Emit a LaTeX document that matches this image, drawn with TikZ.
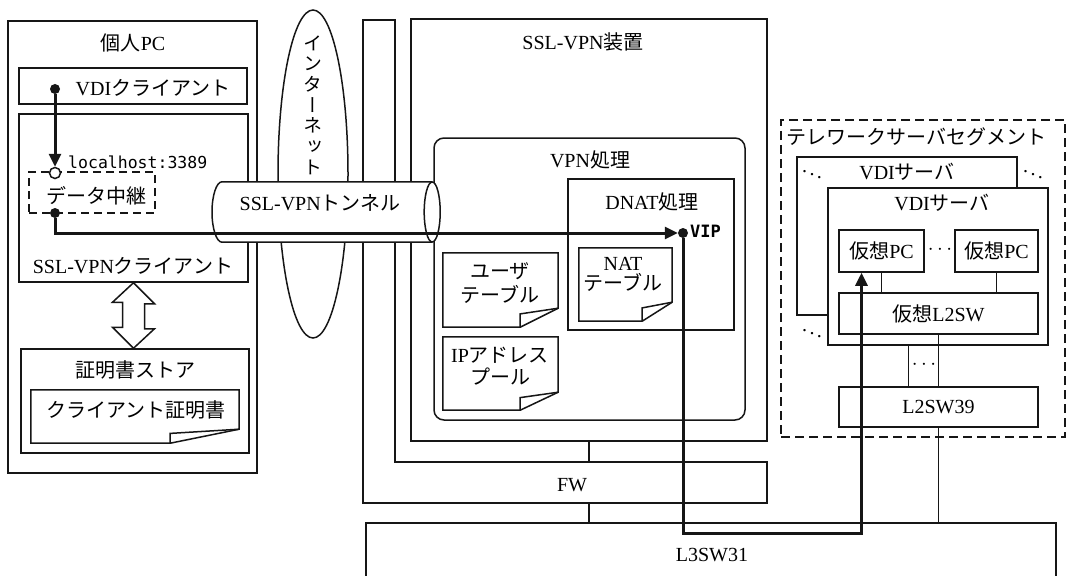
\documentclass[tikz,border=0pt]{standalone}
\usepackage{fontspec}
\setmainfont{Liberation Serif}
\setmonofont{DejaVu Sans Mono}
\newfontfamily\jp{Noto Sans CJK JP}
\newfontfamily\jpv[RawFeature={+vert}]{Noto Sans CJK JP}
\usepackage{tikz}
\usetikzlibrary{arrows.meta,calc,positioning,fit,shapes.geometric}
\definecolor{ink}{HTML}{161616}

% sheet with a folded corner: node, fold width, fold height
\newcommand\docfold[3]{%
  \draw[ink,line width=1.5pt] (#1.north west) -- (#1.north east) -- ([yshift=#3]#1.south east)
    -- ([xshift=-#2]#1.south east) -- (#1.south west) -- cycle;
  \draw[ink,line width=1.5pt] ([xshift=-#2]#1.south east) -- ([xshift=-#2,yshift=0.7*#3]#1.south east)
    -- ([yshift=#3]#1.south east);}

\begin{document}
\begin{tikzpicture}[x=1pt,y=-1pt,font=\fontsize{20}{22}\selectfont,
  box/.style={draw=ink,line width=1.5pt,inner sep=0pt},
  sheet/.style={inner sep=0pt},
  txt/.style={inner sep=0pt},
  dotnode/.style={circle,fill=ink,inner sep=0pt,minimum size=10pt},
  link/.style={ink,line width=1.5pt},
  flow/.style={ink,line width=3pt},
  tip/.style={-{Triangle[length=13pt,width=12pt]}}]
  \useasboundingbox (0,0) rectangle (1067,575);
  \clip (0,0) rectangle (1067,575);

  % internet
  \node[ellipse,draw=ink,line width=1.5pt,minimum width=70pt,minimum height=328pt,inner sep=0pt] (inet) at (313,174) {};
  \node[txt,align=center,font=\jpv\fontsize{19}{20.7}\selectfont] (inettext) at (313,105) {イ\\ン\\タ\\ー\\ネ\\ッ\\ト};

  % personal PC
  \node[box,fit={(8,21) (257,473)}] (pc) {};
  \node[txt] (pctext) at (133,43) {{\jp 個人}PC};
  \node[box,fit={(19,68) (247,104)}] (vdicl) {};
  \node[txt] (vdicltext) at (153,88) {VDI{\jp クライアント}};
  \node[box,fit={(19,114) (248,282)}] (sslcl) {};
  \node[txt] (sslcltext) at (133,266) {SSL-VPN{\jp クライアント}};
  \node[box,dash pattern=on 8pt off 5pt,line width=2pt,fit={(29,172) (155,213)}] (relay) {};
  \node[txt] (relaytext) at (96,196) {\jp データ中継};
  \node[txt,anchor=west,font=\ttfamily\fontsize{16.5}{18}\selectfont] (lhtext) at (68,162) {localhost:3389};
  \node[box,fit={(21,349) (249,453)}] (store) {};
  \node[txt] (storetext) at (135,370) {\jp 証明書ストア};
  \node[sheet,fit={(31,390) (239,443)}] (cert) {};
  \docfold{cert}{69pt}{14pt}
  \node[txt] (certtext) at (136,410) {\jp クライアント証明書};
  \draw[link,fill=white] (sslcl.south) -- ++(21,21) -- ++(-10,0) -- ++(0,25) -- ++(10,0)
    -- (sslcl.south |- store.north) -- ++(-21,-21) -- ++(10,0) -- ++(0,-25) -- ++(-10,0) -- cycle;

  % FW and SSL-VPN device
  \draw[link] (363,20) -- (395,20) -- (395,462) -- (767,462) -- (767,503) -- (363,503) -- cycle;
  \node[sheet,fit={(363,462) (767,503)}] (fw) {};
  \node[txt] (fwtext) at (572,485) {FW};
  \node[box,fit={(411,19) (767,441)}] (vpndev) {};
  \node[txt] (vpndevtext) at (583,42) {SSL-VPN{\jp 装置}};
  \node[box,rounded corners=10pt,fit={(434,138) (745,420)}] (vpnproc) {};
  \node[txt] (vpnproctext) at (590,160) {VPN{\jp 処理}};
  \node[box,fit={(568,179) (734,330)}] (dnat) {};
  \node[txt] (dnattext) at (652,202) {DNAT{\jp 処理}};
  \node[sheet,fit={(579,248) (672,321)}] (nattab) {};
  \docfold{nattab}{30pt}{19pt}
  \node[txt,align=center,font=\fontsize{20}{20}\selectfont] (nattext) at (623,274) {NAT\\{\jp テーブル}};
  \node[sheet,fit={(443,253) (558,327)}] (usertab) {};
  \docfold{usertab}{38pt}{19pt}
  \node[txt,align=center,font=\jp\fontsize{20}{24}\selectfont] (usertext) at (500,283) {ユーザ\\テーブル};
  \node[sheet,fit={(443,337) (558,410)}] (ippool) {};
  \docfold{ippool}{38pt}{18pt}
  \node[txt,align=center,font=\fontsize{20}{22}\selectfont] (iptext) at (500,366) {IP{\jp アドレス}\\{\jp プール}};

  % L3SW
  \node[box,fit={(366,523) (1056,600)}] (l3sw) {};
  \node[txt] (l3swtext) at (712,555) {L3SW31};
  \draw[link] (vpndev.south) -- (vpndev.south |- fw.north);
  \draw[link] (vpndev.south |- fw.south) -- (vpndev.south |- l3sw.north);

  % telework server segment
  \node[box,dash pattern=on 9pt off 5pt,line width=2pt,fit={(781,120) (1065,437)}] (telework) {};
  \node[txt,anchor=west] (teleworktext) at (786,137) {\jp テレワークサーバセグメント};
  \node[box,fill=white,fit={(797,157) (1017,315)}] (vdiback) {};
  \node[txt] (vdibacktext) at (907,172) {VDI{\jp サーバ}};
  \node[box,fill=white,fit={(828,188) (1048,345)}] (vdifront) {};
  \node[txt] (vdifronttext) at (942,203) {VDI{\jp サーバ}};
  \node[box,fit={(839,230) (924,272)}] (vpc1) {};
  \node[txt] (vpc1text) at (vpc1) {{\jp 仮想}PC};
  \node[box,fit={(955,230) (1038,272)}] (vpc2) {};
  \node[txt] (vpc2text) at (vpc2) {{\jp 仮想}PC};
  \node[txt] (vpcdots) at (940,250) {$\cdots$};
  \node[box,fit={(839,293) (1038,334)}] (vl2sw) {};
  \node[txt] (vl2swtext) at (vl2sw) {{\jp 仮想}L2SW};
  \node[box,fit={(839,387) (1038,427)}] (l2sw39) {};
  \node[txt] (l2sw39text) at (l2sw39) {L2SW39};
  \node[txt] (srvdots) at (924,365) {$\cdots$};
  \node[txt] (ddotsa) at (812,171) {$\ddots$};
  \node[txt] (ddotsb) at (1033,171) {$\ddots$};
  \node[txt] (ddotsc) at (812,330) {$\ddots$};
  \draw[link] (vpc1.south) -- (vpc1.south |- vl2sw.north);
  \draw[link] (vpc2.south) -- (vpc2.south |- vl2sw.north);
  \draw[link] (vl2sw.south) -- (vl2sw.south |- l2sw39.north);
  \draw[link] ([xshift=-30pt]l2sw39.north) -- ([xshift=-30pt]l2sw39.north |- vdifront.south);
  \draw[link] (l2sw39.south) -- (l2sw39.south |- l3sw.north);

  % tunnel
  \node[sheet,fit={(222,182) (432,242)}] (tunnel) {};
  \draw[link,fill=white] (tunnel.north east) -- (tunnel.north west)
    .. controls (216.5,182) and (212,195.4) .. (212,212)
    .. controls (212,228.6) and (216.5,242) .. (tunnel.south west) -- (tunnel.south east);
  \draw[link,fill=white] (tunnel.east) ellipse [x radius=8, y radius=30];
  \node[txt] (tunneltext) at (320,203) {SSL-VPN{\jp トンネル}};

  % traffic
  \node[dotnode] (vdidot) at (55,89) {};
  \node[circle,draw=ink,line width=1.5pt,fill=white,inner sep=0pt,minimum size=11pt] (lhport) at (55,173) {};
  \node[dotnode] (relaydot) at (55,213) {};
  \node[dotnode] (vipdot) at (683,233) {};
  \node[txt,anchor=west,font=\ttfamily\bfseries\fontsize{17}{19}\selectfont] (viptext) at (690,231) {VIP};
  \coordinate (flowlow) at (683,533);
  \draw[flow,tip] (vdidot) -- (lhport);
  \draw[flow,tip] (relaydot) |- (vipdot);
  \draw[flow,tip] (vipdot) -- (flowlow) -| ([xshift=-20pt]vpc1.south);
\end{tikzpicture}
\end{document}
